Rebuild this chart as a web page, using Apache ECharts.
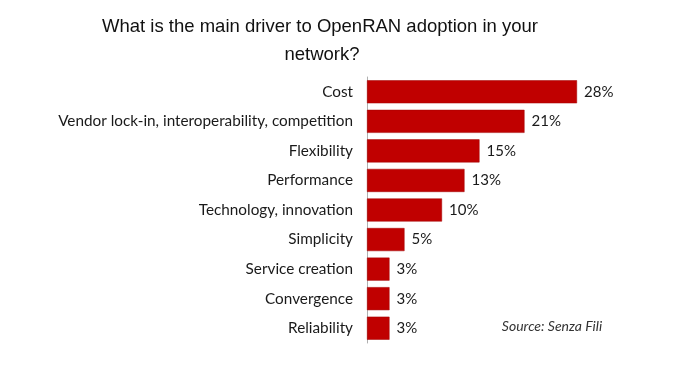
<!DOCTYPE html>
<html><head><meta charset="utf-8">
<script src="https://cdn.jsdelivr.net/npm/echarts@6/dist/echarts.min.js"></script>
<style>html,body{margin:0;padding:0;background:#fff}#c{width:682px;height:381px}</style>
</head><body><div id="c"></div>
<script>
const categories = ["Cost","Vendor lock-in, interoperability, competition","Flexibility","Performance","Technology, innovation","Simplicity","Service creation","Convergence","Reliability"];
const values = [28,21,15,13,10,5,3,3,3];
const titleLines = ["What is the main driver to OpenRAN adoption in your","network?"];
const sourceText = "Source: Senza Fili";

const chart = echarts.init(document.getElementById('c'));
chart.setOption({
  animation:false,
  grid:{left:367, top:77, width:225, height:266},
  xAxis:{type:'value', min:0, max:30, show:false},
  yAxis:{type:'category', inverse:true, data:categories,
    axisLine:{show:true, lineStyle:{color:'#b0b0b0', width:1}},
    axisTick:{show:false},
    axisLabel:{color:'#1a1a1a', fontFamily:'Lato', fontSize:15.3, margin:14}
  },
  series:[{type:'bar', data:values, barCategoryGap:'22%',
    itemStyle:{color:'#c00000', borderColor:'#a00000', borderWidth:0.5},
    label:{show:true, position:'right', distance:7, formatter:'{c}%', color:'#1a1a1a', fontFamily:'Lato', fontSize:15}
  }],
  graphic:[
    {type:'text', x:320, y:27, style:{text:titleLines[0], font:'18.5px "Liberation Sans"', fill:'#111', align:'center', verticalAlign:'middle'}},
    {type:'text', x:322, y:55, style:{text:titleLines[1], font:'18.5px "Liberation Sans"', fill:'#111', align:'center', verticalAlign:'middle'}},
    {type:'text', x:552, y:326, style:{text:sourceText, font:'italic 14px Lato', fill:'#333', align:'center', verticalAlign:'middle'}}
  ]
});
</script></body></html>
